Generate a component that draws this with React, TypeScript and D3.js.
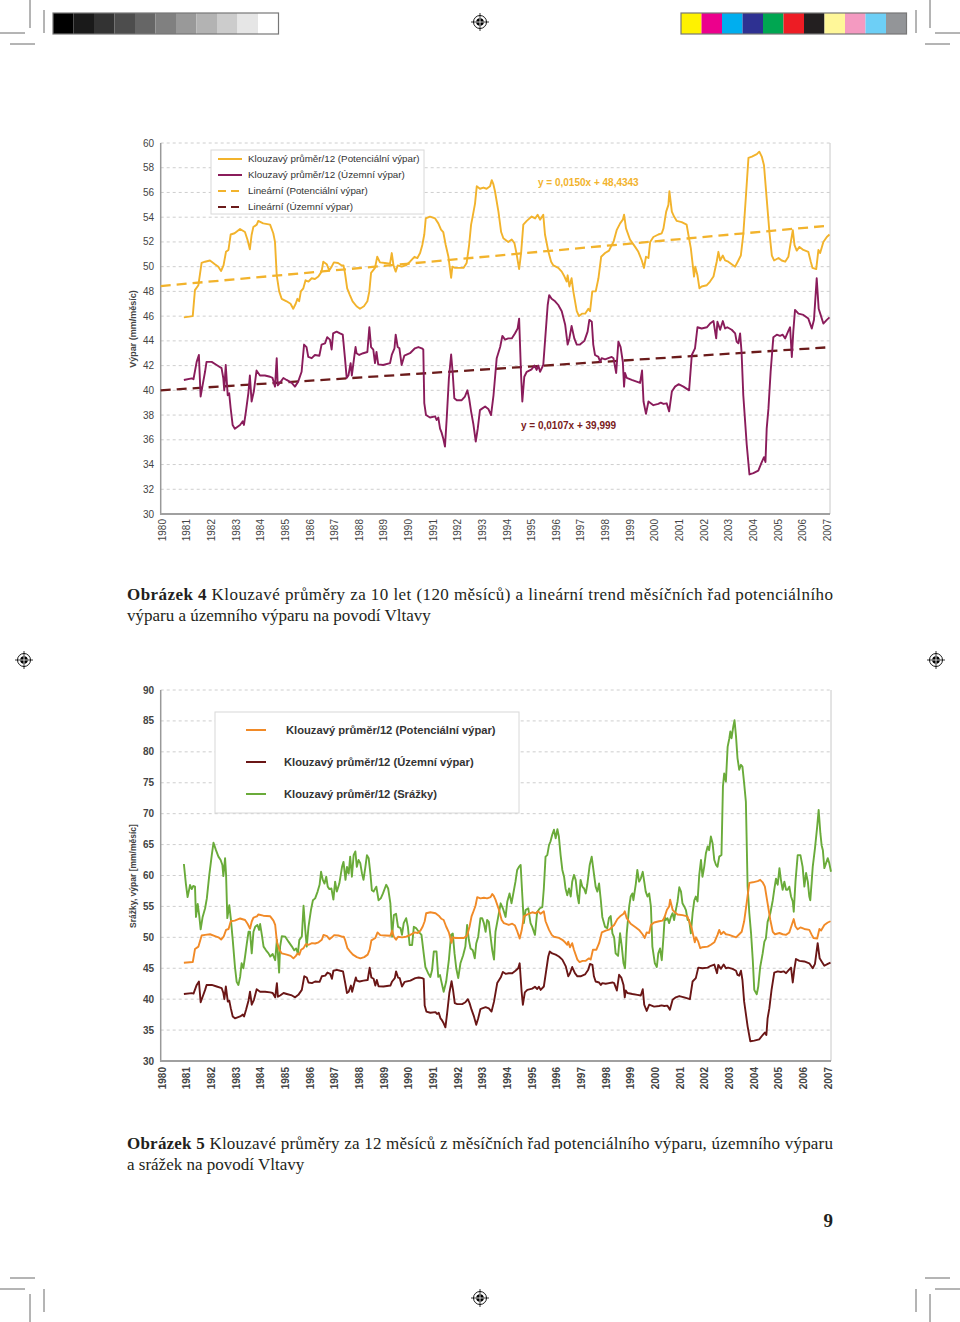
import React from "react";
import * as d3 from "d3";

// ---------- DATA ----------
const years: number[] = d3.range(1980, 2008);
const ticksTop: number[] = [30, 32, 34, 36, 38, 40, 42, 44, 46, 48, 50, 52, 54, 56, 58, 60];
const ticksBot: number[] = [30, 35, 40, 45, 50, 55, 60, 65, 70, 75, 80, 85, 90];

// Klouzavý průměr/12 (Potenciální výpar) [year, value]
const potencialni: [number, number][] = [
[1980.94,45.9],[1981.3,46.0],[1981.39,48.1],[1981.53,48.5],[1981.66,50.3],[1981.8,50.4],[1982.0,50.5],[1982.2,50.2],[1982.34,50.0],[1982.45,49.65],[1982.55,50.1],[1982.65,51.2],[1982.75,51.35],[1982.84,52.6],[1983.0,52.7],[1983.22,53.05],[1983.42,52.8],[1983.52,52.2],[1983.62,51.4],[1983.69,52.56],[1983.76,53.2],[1983.9,53.4],[1983.96,53.7],[1984.16,53.5],[1984.44,53.4],[1984.57,52.7],[1984.64,52.0],[1984.71,49.3],[1984.81,48.0],[1984.91,47.4],[1985.11,47.2],[1985.27,47.0],[1985.38,46.6],[1985.48,47.0],[1985.55,47.4],[1985.62,47.2],[1985.69,48.0],[1985.79,48.25],[1985.88,48.9],[1986.0,48.8],[1986.13,49.06],[1986.26,49.0],[1986.4,49.2],[1986.53,49.6],[1986.6,50.4],[1986.74,50.2],[1986.84,49.7],[1986.94,50.0],[1987.03,50.35],[1987.2,50.3],[1987.35,50.1],[1987.42,50.1],[1987.48,49.5],[1987.57,48.25],[1987.68,47.7],[1987.79,47.2],[1987.95,46.8],[1988.09,46.6],[1988.25,46.8],[1988.39,47.2],[1988.47,48.0],[1988.54,49.5],[1988.7,49.9],[1988.79,50.8],[1988.9,50.35],[1989.1,50.3],[1989.31,50.25],[1989.38,51.1],[1989.45,50.1],[1989.54,49.6],[1989.62,50.1],[1989.78,50.0],[1989.95,50.1],[1990.12,50.4],[1990.3,50.8],[1990.42,50.7],[1990.53,51.1],[1990.62,51.75],[1990.7,52.6],[1990.76,53.9],[1990.93,54.05],[1991.14,53.9],[1991.27,53.5],[1991.38,53.0],[1991.47,52.8],[1991.57,51.75],[1991.68,50.8],[1991.79,49.1],[1991.84,50.0],[1991.95,49.9],[1992.11,49.9],[1992.29,49.9],[1992.42,50.3],[1992.52,51.75],[1992.6,53.4],[1992.65,53.9],[1992.76,55.1],[1992.83,56.5],[1992.96,56.3],[1993.1,56.4],[1993.23,56.3],[1993.37,56.5],[1993.44,57.0],[1993.5,56.7],[1993.57,56.1],[1993.71,54.45],[1993.82,52.8],[1993.91,52.3],[1994.11,52.0],[1994.25,52.2],[1994.36,51.9],[1994.45,51.0],[1994.55,49.8],[1994.63,51.1],[1994.72,53.4],[1994.86,53.7],[1995.06,54.05],[1995.2,53.9],[1995.3,54.2],[1995.4,53.8],[1995.53,54.2],[1995.6,52.6],[1995.74,51.2],[1995.85,50.4],[1995.94,50.1],[1996.14,49.9],[1996.28,49.6],[1996.39,49.2],[1996.48,48.8],[1996.52,49.3],[1996.59,48.4],[1996.68,49.06],[1996.75,48.0],[1996.89,46.4],[1996.98,46.0],[1997.1,46.2],[1997.23,46.2],[1997.36,46.6],[1997.43,46.4],[1997.52,48.0],[1997.66,48.0],[1997.77,49.06],[1997.88,50.8],[1998.04,51.1],[1998.2,51.3],[1998.31,51.75],[1998.38,52.0],[1998.51,52.95],[1998.65,53.5],[1998.76,53.8],[1998.81,54.2],[1998.89,53.1],[1999.05,52.2],[1999.26,51.6],[1999.39,51.2],[1999.53,50.5],[1999.62,49.9],[1999.7,50.8],[1999.8,50.7],[1999.87,52.0],[2000.0,52.4],[2000.2,52.6],[2000.34,52.7],[2000.41,53.1],[2000.52,54.45],[2000.61,55.0],[2000.65,56.1],[2000.75,54.45],[2000.84,54.05],[2000.95,53.7],[2001.15,53.6],[2001.35,53.4],[2001.42,52.6],[2001.52,51.5],[2001.6,50.1],[2001.65,49.2],[2001.7,50.0],[2001.79,49.3],[2001.87,48.25],[2001.96,48.4],[2002.17,48.5],[2002.3,48.8],[2002.44,49.2],[2002.57,50.4],[2002.64,51.2],[2002.71,50.5],[2002.82,50.9],[2002.91,50.5],[2003.04,50.4],[2003.18,50.2],[2003.32,50.0],[2003.45,50.5],[2003.55,50.9],[2003.65,52.6],[2003.76,55.8],[2003.86,58.8],[2004.0,58.9],[2004.2,59.1],[2004.3,59.3],[2004.4,58.9],[2004.49,58.2],[2004.6,55.5],[2004.71,52.8],[2004.81,50.9],[2004.9,50.5],[2005.08,50.7],[2005.21,50.5],[2005.35,50.4],[2005.48,50.8],[2005.58,52.0],[2005.66,52.95],[2005.73,51.75],[2005.82,51.3],[2005.93,51.6],[2006.09,51.35],[2006.29,51.2],[2006.39,50.4],[2006.46,49.9],[2006.61,49.8],[2006.7,51.35],[2006.77,51.1],[2006.9,52.0],[2007.04,52.4],[2007.15,52.6]
];

// Klouzavý průměr/12 (Územní výpar)
const uzemni: [number, number][] = [
[1980.94,40.84],[1981.26,40.97],[1981.33,40.9],[1981.46,42.3],[1981.55,42.86],[1981.62,39.5],[1981.7,40.4],[1981.8,41.5],[1981.86,42.3],[1982.07,42.3],[1982.27,42.05],[1982.47,41.8],[1982.54,41.0],[1982.58,40.0],[1982.64,42.05],[1982.72,39.6],[1982.78,39.76],[1982.84,38.55],[1982.92,37.2],[1983.01,36.9],[1983.22,37.2],[1983.33,37.5],[1983.38,37.2],[1983.46,38.3],[1983.56,39.8],[1983.62,41.2],[1983.69,39.1],[1983.78,39.9],[1983.89,41.6],[1984.03,41.2],[1984.23,41.2],[1984.44,41.1],[1984.54,41.0],[1984.64,40.3],[1984.71,42.6],[1984.75,40.4],[1984.84,40.6],[1984.98,41.0],[1985.11,40.84],[1985.32,40.6],[1985.45,40.3],[1985.58,40.7],[1985.72,41.5],[1985.82,43.7],[1985.92,43.5],[1985.99,42.7],[1986.13,42.6],[1986.26,42.86],[1986.44,42.8],[1986.53,43.7],[1986.67,43.8],[1986.76,44.3],[1986.87,44.1],[1986.94,43.3],[1987.0,44.6],[1987.14,44.75],[1987.28,44.6],[1987.39,44.5],[1987.48,42.6],[1987.55,41.0],[1987.62,41.2],[1987.71,42.2],[1987.76,41.2],[1987.85,42.6],[1987.91,43.5],[1987.95,43.0],[1988.06,42.86],[1988.22,43.0],[1988.39,43.1],[1988.47,45.1],[1988.54,43.5],[1988.63,43.3],[1988.7,42.2],[1988.76,43.1],[1988.83,42.1],[1989.03,42.05],[1989.31,42.2],[1989.38,42.86],[1989.49,43.4],[1989.54,44.5],[1989.62,43.5],[1989.69,43.4],[1989.78,42.05],[1989.89,42.8],[1990.12,43.0],[1990.32,43.4],[1990.46,43.5],[1990.6,43.4],[1990.66,43.3],[1990.7,38.96],[1990.77,38.0],[1990.93,37.8],[1991.14,37.9],[1991.2,37.6],[1991.27,37.8],[1991.34,36.9],[1991.4,36.6],[1991.47,36.1],[1991.54,35.45],[1991.61,37.7],[1991.7,41.0],[1991.79,42.9],[1991.85,41.5],[1991.92,39.36],[1992.02,39.2],[1992.22,39.2],[1992.35,39.5],[1992.45,40.0],[1992.52,39.36],[1992.6,38.3],[1992.69,37.3],[1992.79,35.85],[1992.87,36.9],[1992.96,38.4],[1993.03,38.5],[1993.17,38.7],[1993.3,38.5],[1993.41,38.0],[1993.51,39.6],[1993.64,42.6],[1993.78,43.5],[1993.87,44.4],[1993.98,44.1],[1994.11,44.2],[1994.25,44.2],[1994.38,44.6],[1994.49,45.0],[1994.55,45.8],[1994.63,41.2],[1994.68,39.1],[1994.76,41.1],[1994.86,41.5],[1995.06,41.7],[1995.17,42.0],[1995.26,41.65],[1995.33,42.0],[1995.4,41.5],[1995.53,42.05],[1995.63,44.75],[1995.71,46.9],[1995.77,47.7],[1995.87,47.4],[1996.01,47.2],[1996.14,46.9],[1996.28,46.4],[1996.42,45.3],[1996.52,43.7],[1996.59,44.2],[1996.68,45.2],[1996.79,44.2],[1996.89,43.7],[1997.02,43.7],[1997.2,44.0],[1997.33,44.75],[1997.4,45.7],[1997.5,45.55],[1997.56,43.7],[1997.63,42.86],[1997.77,42.7],[1997.84,42.3],[1997.9,42.6],[1998.04,42.5],[1998.17,42.6],[1998.31,42.7],[1998.38,42.6],[1998.49,41.4],[1998.58,43.94],[1998.67,43.5],[1998.76,42.3],[1998.81,40.3],[1998.85,41.4],[1998.92,41.0],[1999.12,40.84],[1999.32,40.7],[1999.46,40.6],[1999.54,41.6],[1999.6,39.1],[1999.7,38.1],[1999.8,39.1],[2000.0,38.8],[2000.2,38.9],[2000.3,39.0],[2000.41,38.9],[2000.54,38.95],[2000.64,38.3],[2000.75,39.9],[2000.88,40.3],[2001.02,40.5],[2001.22,40.3],[2001.45,40.0],[2001.56,42.86],[2001.69,43.4],[2001.79,45.1],[2001.96,45.0],[2002.17,45.1],[2002.3,45.4],[2002.44,45.6],[2002.55,44.2],[2002.6,45.55],[2002.71,44.9],[2002.82,45.6],[2002.91,45.0],[2003.0,45.1],[2003.18,44.9],[2003.32,44.6],[2003.38,43.94],[2003.45,43.8],[2003.52,44.6],[2003.58,43.1],[2003.65,39.6],[2003.79,35.6],[2003.9,33.2],[2004.06,33.3],[2004.26,33.5],[2004.4,34.2],[2004.49,34.6],[2004.55,34.2],[2004.6,36.9],[2004.67,38.5],[2004.76,41.5],[2004.87,44.3],[2005.01,44.5],[2005.14,44.4],[2005.25,44.5],[2005.35,44.2],[2005.48,44.8],[2005.55,45.1],[2005.62,42.7],[2005.68,44.75],[2005.75,46.5],[2005.89,46.2],[2006.09,46.1],[2006.29,45.8],[2006.43,45.0],[2006.52,45.7],[2006.63,49.06],[2006.71,46.6],[2006.79,46.1],[2006.9,45.4],[2007.04,45.7],[2007.15,45.9]
];

// Klouzavý průměr/12 (Srážky)
const srazky: [number, number][] = [
[1980.94,61.86],[1981.02,58.7],[1981.09,56.5],[1981.19,58.46],[1981.26,57.8],[1981.32,58.3],[1981.39,58.2],[1981.43,53.3],[1981.5,55.4],[1981.56,53.6],[1981.62,51.3],[1981.7,53.3],[1981.8,54.7],[1981.87,56.3],[1981.97,60.1],[1982.07,63.3],[1982.14,65.3],[1982.24,64.1],[1982.34,63.05],[1982.43,62.5],[1982.5,61.7],[1982.54,59.9],[1982.61,62.8],[1982.65,60.1],[1982.7,53.1],[1982.78,55.2],[1982.84,53.1],[1982.92,49.6],[1983.01,45.2],[1983.08,42.8],[1983.15,42.3],[1983.22,43.6],[1983.28,45.8],[1983.35,45.0],[1983.42,46.9],[1983.49,49.0],[1983.56,50.9],[1983.62,50.9],[1983.69,47.4],[1983.76,50.9],[1983.83,51.7],[1983.92,52.0],[1983.99,51.2],[1984.03,52.15],[1984.1,50.4],[1984.17,48.5],[1984.27,47.9],[1984.37,47.4],[1984.44,46.9],[1984.54,47.3],[1984.64,46.3],[1984.71,49.6],[1984.75,47.4],[1984.8,44.3],[1984.84,48.5],[1984.91,50.2],[1985.05,50.1],[1985.18,49.3],[1985.32,48.5],[1985.41,47.9],[1985.49,48.2],[1985.56,47.4],[1985.62,49.6],[1985.72,50.1],[1985.79,55.1],[1985.86,51.2],[1985.92,48.5],[1985.99,51.7],[1986.09,54.4],[1986.17,56.0],[1986.26,56.3],[1986.36,57.4],[1986.44,58.5],[1986.5,60.6],[1986.57,59.3],[1986.64,58.7],[1986.71,59.8],[1986.77,58.2],[1986.84,57.8],[1986.92,57.9],[1987.0,56.1],[1987.07,59.0],[1987.14,57.4],[1987.24,58.7],[1987.35,61.4],[1987.41,62.2],[1987.49,59.3],[1987.55,61.4],[1987.62,60.3],[1987.68,63.05],[1987.75,59.8],[1987.82,63.3],[1987.89,63.9],[1987.95,61.4],[1988.02,62.5],[1988.09,62.0],[1988.16,60.3],[1988.22,59.3],[1988.29,61.2],[1988.36,63.3],[1988.43,62.8],[1988.5,60.3],[1988.56,57.6],[1988.63,57.4],[1988.74,58.2],[1988.83,56.0],[1988.92,56.3],[1989.01,57.1],[1989.14,58.5],[1989.22,57.9],[1989.31,55.5],[1989.38,50.1],[1989.45,53.6],[1989.54,53.8],[1989.62,51.7],[1989.72,51.5],[1989.78,50.4],[1989.85,52.3],[1989.95,53.1],[1990.02,51.7],[1990.09,48.76],[1990.19,48.76],[1990.26,51.7],[1990.35,51.5],[1990.46,50.9],[1990.57,50.4],[1990.66,47.4],[1990.73,45.2],[1990.84,44.2],[1990.93,43.6],[1991.0,44.7],[1991.07,47.7],[1991.18,47.7],[1991.25,43.6],[1991.32,43.9],[1991.38,42.8],[1991.47,41.2],[1991.57,42.8],[1991.68,46.3],[1991.77,50.4],[1991.84,50.6],[1991.91,47.4],[1991.98,45.0],[1992.06,43.4],[1992.15,45.8],[1992.26,47.1],[1992.35,48.5],[1992.42,52.0],[1992.49,49.6],[1992.56,48.2],[1992.65,47.9],[1992.73,46.6],[1992.79,49.0],[1992.87,50.1],[1992.96,53.1],[1993.03,53.1],[1993.1,52.3],[1993.17,50.9],[1993.23,52.8],[1993.3,52.5],[1993.37,50.1],[1993.44,47.9],[1993.51,46.4],[1993.57,50.9],[1993.68,53.3],[1993.78,55.5],[1993.87,54.7],[1993.98,53.3],[1994.05,55.8],[1994.14,57.1],[1994.22,55.5],[1994.32,57.7],[1994.38,59.0],[1994.45,60.9],[1994.52,61.4],[1994.59,61.7],[1994.66,56.6],[1994.72,52.3],[1994.79,54.4],[1994.9,54.7],[1994.99,52.3],[1995.06,51.7],[1995.17,50.4],[1995.26,54.1],[1995.37,54.7],[1995.47,54.9],[1995.53,57.9],[1995.6,63.05],[1995.67,63.3],[1995.74,64.9],[1995.8,65.5],[1995.87,66.6],[1995.94,67.4],[1996.01,66.0],[1996.08,67.5],[1996.14,66.3],[1996.21,63.3],[1996.28,60.9],[1996.35,59.8],[1996.41,57.9],[1996.48,56.8],[1996.55,57.9],[1996.62,56.6],[1996.68,59.0],[1996.75,60.1],[1996.82,59.3],[1996.89,56.8],[1996.95,55.5],[1997.02,59.3],[1997.09,58.2],[1997.16,57.9],[1997.23,57.1],[1997.29,58.5],[1997.39,61.7],[1997.47,63.05],[1997.56,60.3],[1997.63,58.2],[1997.7,57.4],[1997.77,58.7],[1997.84,56.0],[1997.9,53.3],[1998.01,51.7],[1998.1,51.5],[1998.17,53.1],[1998.24,53.45],[1998.31,50.65],[1998.38,50.0],[1998.44,47.4],[1998.54,47.0],[1998.62,50.65],[1998.69,48.5],[1998.76,45.8],[1998.82,45.0],[1998.89,50.65],[1998.99,55.0],[1999.05,56.6],[1999.12,57.1],[1999.16,56.0],[1999.26,58.7],[1999.32,60.9],[1999.39,59.0],[1999.46,59.5],[1999.54,60.6],[1999.6,59.0],[1999.66,57.4],[1999.73,56.6],[1999.8,57.1],[1999.87,55.0],[1999.93,48.5],[2000.03,45.8],[2000.11,45.2],[2000.17,47.4],[2000.24,48.2],[2000.31,46.3],[2000.38,50.1],[2000.43,53.3],[2000.47,52.8],[2000.54,53.1],[2000.61,52.3],[2000.68,53.3],[2000.75,53.9],[2000.81,52.8],[2000.88,54.4],[2000.95,55.8],[2001.02,58.1],[2001.09,57.4],[2001.15,55.5],[2001.22,55.0],[2001.29,54.4],[2001.36,52.8],[2001.42,52.8],[2001.49,50.65],[2001.56,53.9],[2001.63,56.0],[2001.69,56.6],[2001.76,55.8],[2001.83,60.1],[2001.9,62.5],[2001.96,59.8],[2002.03,61.4],[2002.1,63.6],[2002.17,64.7],[2002.23,64.1],[2002.3,66.3],[2002.37,65.2],[2002.44,62.5],[2002.51,61.7],[2002.57,61.4],[2002.64,63.05],[2002.73,63.3],[2002.79,74.4],[2002.84,76.5],[2002.91,75.2],[2002.98,80.8],[2003.05,82.2],[2003.09,83.3],[2003.14,82.2],[2003.21,84.1],[2003.26,85.1],[2003.32,82.5],[2003.38,79.0],[2003.45,77.1],[2003.52,77.9],[2003.58,77.6],[2003.65,74.9],[2003.72,71.9],[2003.79,58.2],[2003.86,53.9],[2003.93,50.65],[2004.0,46.3],[2004.06,41.5],[2004.16,40.8],[2004.22,42.0],[2004.3,45.2],[2004.4,47.4],[2004.47,49.3],[2004.53,49.8],[2004.6,52.5],[2004.71,53.9],[2004.81,56.0],[2004.87,57.7],[2004.94,59.5],[2005.01,58.5],[2005.08,61.2],[2005.14,59.3],[2005.21,57.7],[2005.28,59.0],[2005.35,57.7],[2005.41,57.7],[2005.48,58.2],[2005.55,56.6],[2005.62,55.8],[2005.66,54.15],[2005.73,59.0],[2005.82,63.3],[2005.93,63.3],[2006.02,61.4],[2006.09,58.2],[2006.16,60.4],[2006.23,59.0],[2006.29,56.6],[2006.33,56.0],[2006.43,61.4],[2006.52,64.4],[2006.61,67.9],[2006.67,70.6],[2006.74,66.8],[2006.79,64.9],[2006.84,64.1],[2006.9,61.2],[2006.97,62.0],[2007.04,62.8],[2007.1,62.0],[2007.17,60.6]
];

// Linear trends (per month, from 1980): slope, intercept
const trendPot: [number, number] = [0.015, 48.4343];
const trendUz: [number, number] = [0.0107, 39.999];
const trendLabels: string[] = ["y = 0,0150x + 48,4343", "y = 0,0107x + 39,999"];

const legendTop: string[] = [
  "Klouzavý průměr/12 (Potenciální výpar)",
  "Klouzavý průměr/12 (Územní výpar)",
  "Lineární (Potenciální výpar)",
  "Lineární (Územní výpar)",
];
const legendBot: string[] = [
  "Klouzavý průměr/12 (Potenciální výpar)",
  "Klouzavý průměr/12 (Územní výpar)",
  "Klouzavý průměr/12 (Srážky)",
];

const grays: string[] = ["#000000","#1a1a1a","#333333","#4d4d4d","#666666","#808080","#999999","#b3b3b3","#cccccc","#e6e6e6","#ffffff"];
const process: string[] = ["#fff200","#ec008c","#00aeef","#2e3192","#00a651","#ed1c24","#231f20","#fff799","#f49ac1","#6dcff6","#939598"];

// ---------- STYLE ----------
const C_YEL = "#f2b32c";
const C_PUR = "#8a1c5b";
const C_TREND_U = "#6b1b1b";
const C_ORA = "#f18a27";
const C_DRED = "#6a1616";
const C_GRN = "#6aab3a";
const SANS = "'Liberation Sans', Arial, sans-serif";
const SERIF = "'Liberation Serif', 'Times New Roman', serif";

function RegMark({ x, y }: { x: number; y: number }) {
  return (
    <g>
      <line x1={x - 9} x2={x + 9} y1={y} y2={y} stroke="#000" strokeWidth={0.8} />
      <line x1={x} x2={x} y1={y - 9} y2={y + 9} stroke="#000" strokeWidth={0.8} />
      <circle cx={x} cy={y} r={6.5} fill="none" stroke="#000" strokeWidth={0.9} />
      <circle cx={x} cy={y} r={3.8} fill="#000" />
      <line x1={x - 3.8} x2={x + 3.8} y1={y} y2={y} stroke="#fff" strokeWidth={0.8} />
      <line x1={x} x2={x} y1={y - 3.8} y2={y + 3.8} stroke="#fff" strokeWidth={0.8} />
    </g>
  );
}

function CropMarks() {
  const segs: [number, number, number, number][] = [
    [30, 0, 30, 28], [0, 33, 25, 33], [44, 10, 44, 33], [10, 44, 35, 44],
  ];
  const out: JSX.Element[] = [];
  const W = 960, H = 1322;
  const flips = [[false, false], [true, false], [false, true], [true, true]];
  flips.forEach(([fx, fy], i) => {
    segs.forEach((s, j) => {
      const x1 = fx ? W - s[0] : s[0];
      const x2 = fx ? W - s[2] : s[2];
      const y1 = fy ? H - s[1] : s[1];
      const y2 = fy ? H - s[3] : s[3];
      out.push(<line key={`${i}-${j}`} x1={x1} y1={y1} x2={x2} y2={y2} stroke="#444" strokeWidth={0.8} />);
    });
  });
  return <g>{out}</g>;
}

function ColorBar({ x, colors }: { x: number; colors: string[] }) {
  const w = 20.5;
  return (
    <g>
      {colors.map((c, i) => (
        <rect key={i} x={x + i * w} y={13} width={w} height={21} fill={c} />
      ))}
      <rect x={x} y={13} width={w * colors.length} height={21} fill="none" stroke="#777" strokeWidth={1.2} />
    </g>
  );
}

function TopChart() {
  const x = d3.scaleLinear().domain([1980, 2007.17]).range([160.7, 830]);
  const y = d3.scaleLinear().domain([30, 60]).range([514, 143]);
  const line = d3.line<[number, number]>().x((d) => x(d[0])).y((d) => y(d[1]));
  const tr = (t: [number, number]) =>
    [1980, 2007.17].map((yr) => [yr, t[1] + t[0] * (yr - 1980) * 12] as [number, number]);
  return (
    <g fontFamily={SANS}>
      {ticksTop.map((t) => (
        <g key={t}>
          {t > 30 && (
            <line x1={x(1980)} x2={830} y1={y(t)} y2={y(t)} stroke="#c8c8c8" strokeWidth={0.9} strokeDasharray="3,3" />
          )}
          <text x={154} y={y(t)} dy="0.35em" textAnchor="end" fontSize={10} fill="#444">{t}</text>
        </g>
      ))}
      <line x1={830} x2={830} y1={143} y2={514} stroke="#c8c8c8" strokeWidth={1} />
      <line x1={160.7} x2={160.7} y1={143} y2={515} stroke="#999" strokeWidth={1.5} />
      <line x1={160} x2={830} y1={514} y2={514} stroke="#a0a0a0" strokeWidth={2} />
      {years.map((yr) => (
        <text key={yr} transform={`translate(${x(yr) + 1.5},519) rotate(-90)`} textAnchor="end" dy="0.35em" fontSize={10} fill="#444">{yr}</text>
      ))}
      <text transform="translate(133,329) rotate(-90)" textAnchor="middle" dy="0.35em" fontSize={9} fontWeight="bold" fill="#444">Výpar (mm/měsíc)</text>
      <path d={line(tr(trendPot)) || ""} fill="none" stroke={C_YEL} strokeWidth={2.3} strokeDasharray="10,6" />
      <path d={line(tr(trendUz)) || ""} fill="none" stroke={C_TREND_U} strokeWidth={2.3} strokeDasharray="10,6" />
      <path d={line(potencialni) || ""} fill="none" stroke={C_YEL} strokeWidth={1.9} strokeLinejoin="round" />
      <path d={line(uzemni) || ""} fill="none" stroke={C_PUR} strokeWidth={1.9} strokeLinejoin="round" />
      <text x={538} y={182} dy="0.35em" fontSize={10} fontWeight="bold" fill={C_YEL}>{trendLabels[0]}</text>
      <text x={521} y={425} dy="0.35em" fontSize={10} fontWeight="bold" fill="#7a2020">{trendLabels[1]}</text>
      <rect x={211} y={150} width={213} height={64} fill="#fff" stroke="#d8d8d8" strokeWidth={1} />
      {legendTop.map((l, i) => {
        const ly = 159 + i * 16;
        const col = i === 0 || i === 2 ? C_YEL : i === 1 ? C_PUR : C_TREND_U;
        return (
          <g key={i}>
            <line x1={218} x2={242} y1={ly} y2={ly} stroke={col} strokeWidth={2} strokeDasharray={i >= 2 ? "8,5" : undefined} />
            <text x={248} y={ly} dy="0.35em" fontSize={9.8} fill="#333">{l}</text>
          </g>
        );
      })}
    </g>
  );
}

function BottomChart() {
  const x = d3.scaleLinear().domain([1980, 2007.17]).range([160.7, 831]);
  const y = d3.scaleLinear().domain([30, 90]).range([1061, 690]);
  const line = d3.line<[number, number]>().x((d) => x(d[0])).y((d) => y(d[1]));
  const cols = [C_ORA, C_DRED, C_GRN];
  return (
    <g fontFamily={SANS}>
      {ticksBot.map((t) => (
        <g key={t}>
          {t > 30 && (
            <line x1={x(1980)} x2={831} y1={y(t)} y2={y(t)} stroke="#c8c8c8" strokeWidth={0.9} strokeDasharray="3,3" />
          )}
          <text x={154} y={y(t)} dy="0.35em" textAnchor="end" fontSize={10} fontWeight="bold" fill="#444">{t}</text>
        </g>
      ))}
      <line x1={831} x2={831} y1={690} y2={1061} stroke="#c8c8c8" strokeWidth={1} />
      <line x1={160.7} x2={160.7} y1={690} y2={1062} stroke="#999" strokeWidth={1.5} />
      <line x1={160} x2={831} y1={1061} y2={1061} stroke="#a0a0a0" strokeWidth={2} />
      {years.map((yr) => (
        <text key={yr} transform={`translate(${x(yr) + 1.5},1067) rotate(-90)`} textAnchor="end" dy="0.35em" fontSize={10} fontWeight="bold" fill="#444">{yr}</text>
      ))}
      <text transform="translate(133,876) rotate(-90)" textAnchor="middle" dy="0.35em" fontSize={8.5} fontWeight="bold" fill="#444">Srážky, výpar [mm/měsíc]</text>
      <path d={line(srazky) || ""} fill="none" stroke={C_GRN} strokeWidth={1.9} strokeLinejoin="round" />
      <path d={line(potencialni) || ""} fill="none" stroke={C_ORA} strokeWidth={1.9} strokeLinejoin="round" />
      <path d={line(uzemni) || ""} fill="none" stroke={C_DRED} strokeWidth={1.9} strokeLinejoin="round" />
      <rect x={215} y={712} width={304} height={101} fill="#fff" stroke="#d8d8d8" strokeWidth={1} />
      {legendBot.map((l, i) => {
        const ly = 730 + i * 32;
        return (
          <g key={i}>
            <line x1={246} x2={266} y1={ly} y2={ly} stroke={cols[i]} strokeWidth={2} />
            <text x={i === 0 ? 286 : 284} y={ly} dy="0.35em" fontSize={11.2} fontWeight="bold" fill="#333">{l}</text>
          </g>
        );
      })}
    </g>
  );
}

export default function App() {
  React.useEffect(() => {
    document.body.style.margin = "0";
  }, []);
  return (
    <div style={{ position: "absolute", left: 0, top: 0, width: 960, height: 1322, overflow: "hidden", background: "#fff" }}>
      <svg width={960} height={1322} viewBox="0 0 960 1322" style={{ display: "block" }}>
        <rect width={960} height={1322} fill="#fff" />
        <CropMarks />
        <ColorBar x={53} colors={grays} />
        <ColorBar x={681} colors={process} />
        <RegMark x={480} y={22} />
        <RegMark x={24} y={660} />
        <RegMark x={936} y={660} />
        <RegMark x={480} y={1298} />
        <TopChart />
        <BottomChart />
        <g fontFamily={SERIF} fontSize={17} fill="#231f20">
          <text x={127} y={600} textLength={706} lengthAdjust="spacing">
            <tspan fontWeight="bold">Obrázek 4</tspan> Klouzavé průměry za 10 let (120 měsíců) a lineární trend měsíčních řad potenciálního
          </text>
          <text x={127} y={621}>výparu a územního výparu na povodí Vltavy</text>
          <text x={127} y={1149} textLength={706} lengthAdjust="spacing">
            <tspan fontWeight="bold">Obrázek 5</tspan> Klouzavé průměry za 12 měsíců z měsíčních řad potenciálního výparu, územního výparu
          </text>
          <text x={127} y={1170}>a srážek na povodí Vltavy</text>
          <text x={833} y={1227} textAnchor="end" fontWeight="bold" fontSize={19}>9</text>
        </g>
      </svg>
    </div>
  );
}
